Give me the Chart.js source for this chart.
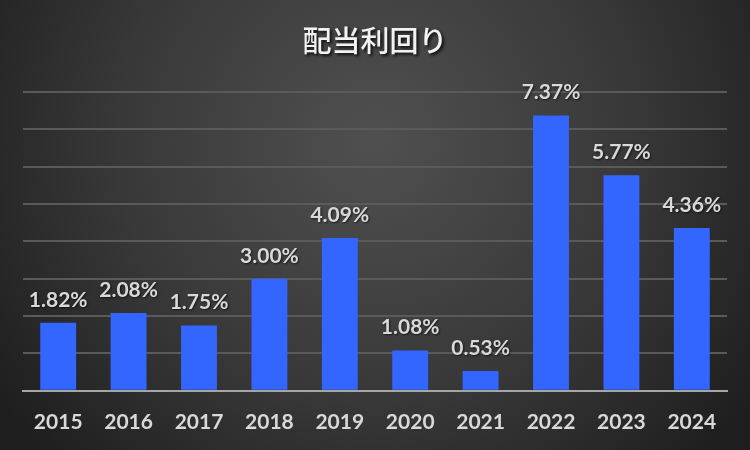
<!DOCTYPE html>
<html>
<head>
<meta charset="utf-8">
<script src="https://cdn.jsdelivr.net/npm/chart.js@4"></script>
<style>
  html, body { margin: 0; padding: 0; background: #2a2a2a; }
  #wrap { width: 750px; height: 450px; }
</style>
</head>
<body>
<div id="wrap"><canvas id="grafica"></canvas></div>
<script>
// datos del gráfico
const anios = ["2015", "2016", "2017", "2018", "2019", "2020", "2021", "2022", "2023", "2024"];
const rendimientos = [1.82, 2.08, 1.75, 3.00, 4.09, 1.08, 0.53, 7.37, 5.77, 4.36];
const titulo = "配当利回り";

// fondo con degradado radial y título
const fondoPlugin = {
    id: "fondo",
    beforeDraw(chart) {
        const ctx = chart.ctx;
        const w = chart.width, h = chart.height;
        const g = ctx.createRadialGradient(w / 2, 140, 10, w / 2, 140, 460);
        g.addColorStop(0, "#4f4f4f");
        g.addColorStop(0.55, "#383838");
        g.addColorStop(1, "#1e1e1e");
        ctx.save();
        ctx.fillStyle = g;
        ctx.fillRect(0, 0, w, h);
        ctx.restore();
    },
    afterDraw(chart) {
        const ctx = chart.ctx;
        ctx.save();
        ctx.font = "500 29px 'Noto Sans CJK JP'";
        ctx.textAlign = "center";
        ctx.textBaseline = "middle";
        ctx.shadowColor = "rgba(0,0,0,0.8)";
        ctx.shadowOffsetX = 2;
        ctx.shadowOffsetY = 2;
        ctx.shadowBlur = 3;
        ctx.fillStyle = "#f2f2f2";
        ctx.fillText(titulo, chart.width / 2, 41);
        ctx.restore();
    }
};

// etiquetas de valor encima de cada barra
const etiquetasPlugin = {
    id: "etiquetas",
    afterDatasetsDraw(chart) {
        const ctx = chart.ctx;
        const meta = chart.getDatasetMeta(0);
        ctx.save();
        ctx.font = "bold 21px Lato";
        ctx.textAlign = "center";
        ctx.textBaseline = "middle";
        ctx.fillStyle = "#d9d9d9";
        ctx.shadowColor = "rgba(0,0,0,0.6)";
        ctx.shadowOffsetX = 1;
        ctx.shadowOffsetY = 1;
        ctx.shadowBlur = 2;
        meta.data.forEach((bar, i) => {
            ctx.fillText(rendimientos[i].toFixed(2) + "%", bar.x, bar.y - 23);
        });
        ctx.restore();
    }
};

new Chart(document.getElementById("grafica"), {
    type: "bar",
    data: {
        labels: anios,
        datasets: [{
            data: rendimientos,
            backgroundColor: "#3366ff",
            categoryPercentage: 1,
            barPercentage: 0.51
        }]
    },
    options: {
        responsive: true,
        maintainAspectRatio: false,
        animation: false,
        layout: { padding: { top: 92, left: 23, right: 23, bottom: 0 } },
        plugins: {
            legend: { display: false },
            title: { display: false },
            tooltip: { enabled: false }
        },
        scales: {
            x: {
                grid: { display: false, drawTicks: false },
                border: { color: "#a6a6a6", width: 2 },
                ticks: {
                    color: "#d9d9d9",
                    font: { family: "Lato", size: 21, weight: "bold" },
                    padding: 19
                },
                afterFit(scale) {
                    scale.height -= 4;
                }
            },
            y: {
                min: 0,
                max: 8,
                ticks: { display: false, stepSize: 1 },
                grid: { color: "#5a5a5a", lineWidth: 2, drawTicks: false },
                border: { display: false }
            }
        }
    },
    plugins: [fondoPlugin, etiquetasPlugin]
});
</script>
</body>
</html>
